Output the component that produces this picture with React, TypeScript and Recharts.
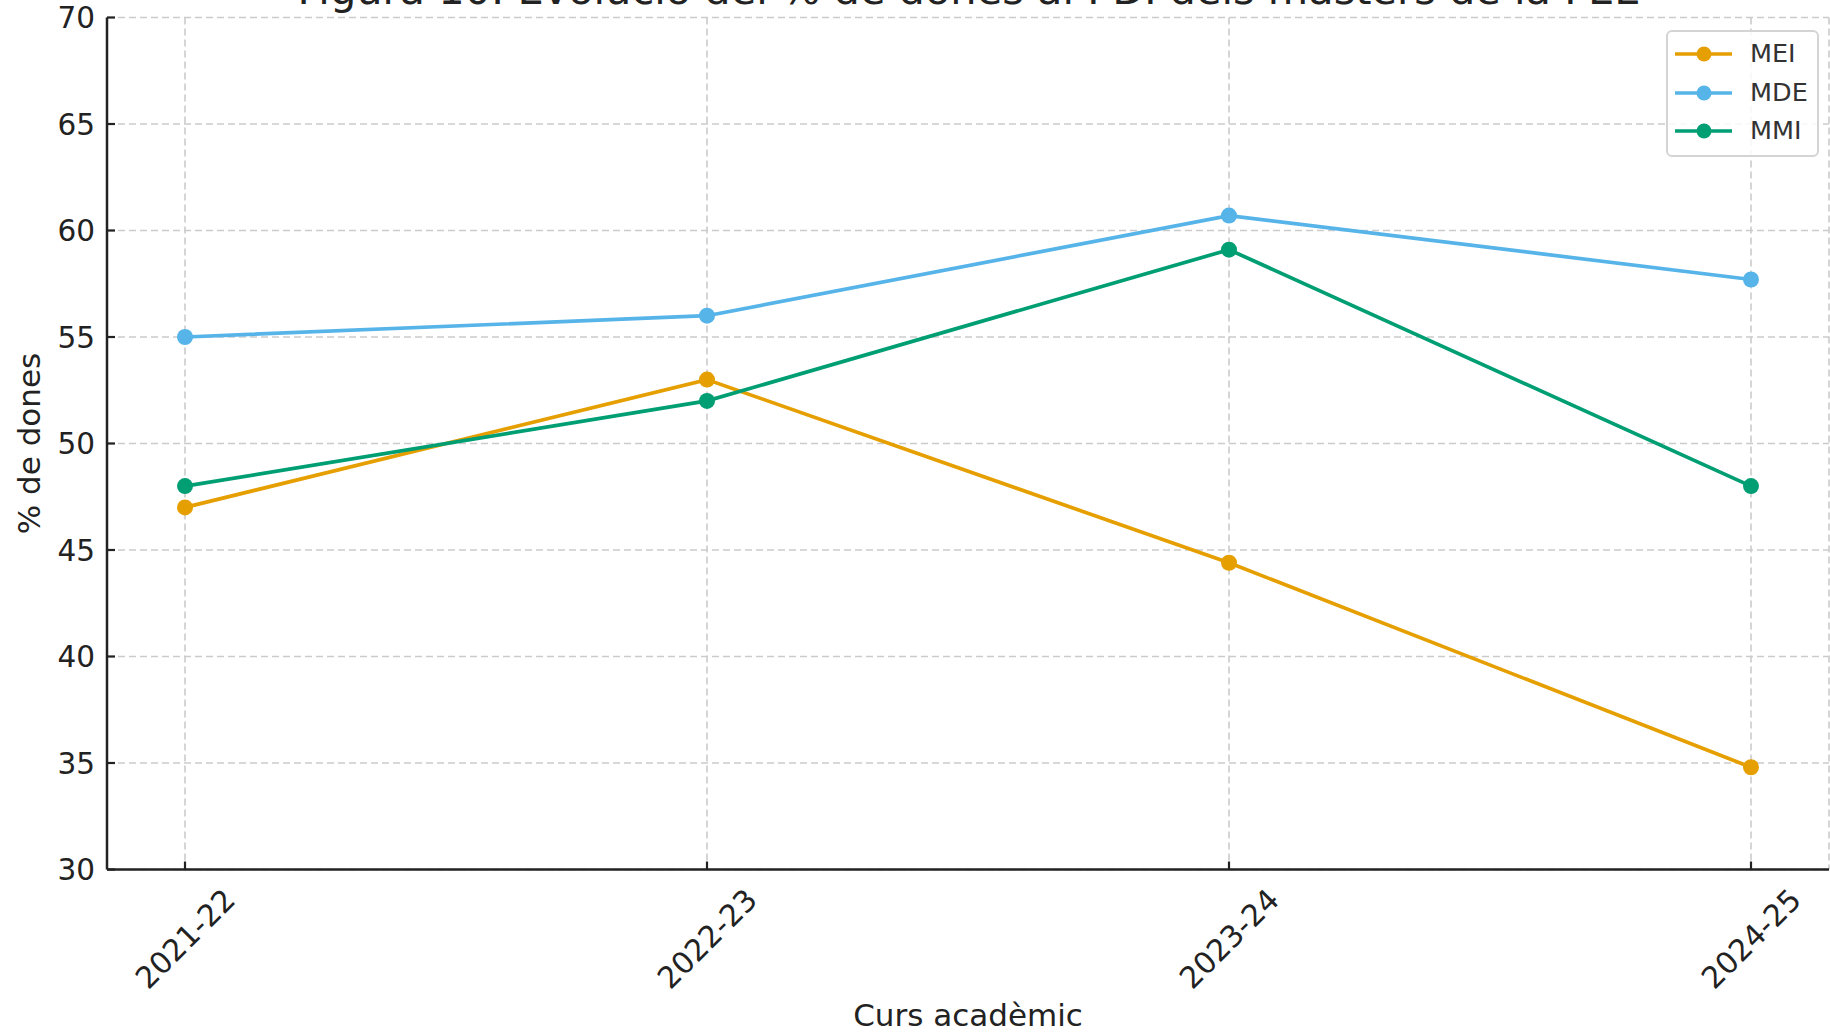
import { LineChart, Line, XAxis, YAxis, CartesianGrid, Legend, Label } from 'recharts';

const FONT = '"DejaVu Sans", sans-serif';
const INK = '#222';

// Dades llegides del gràfic
const cursos = ['2021-22', '2022-23', '2023-24', '2024-25'];
const mei = [47, 53, 44.4, 34.8];
const mde = [55, 56, 60.7, 57.7];
const mmi = [48, 52, 59.1, 48];
const yTicks = [30, 35, 40, 45, 50, 55, 60, 65, 70];

const series = [
  { key: 'MEI', color: '#E69F00' },
  { key: 'MDE', color: '#56B4E9' },
  { key: 'MMI', color: '#009E73' },
];

const data = cursos.map((c, i) => ({ curs: c, MEI: mei[i], MDE: mde[i], MMI: mmi[i] }));

function XTick(props: any) {
  const { x, y, payload } = props;
  const ty = y + 69;
  return (
    <g>
      <line x1={x} y1={y} x2={x} y2={y - 8} stroke={INK} strokeWidth={2.2} />
      <text x={x} y={ty} dy="0.36em" textAnchor="middle" transform={`rotate(-45 ${x} ${ty})`}
        fontSize={30} fill={INK} fontFamily={FONT}>{payload.value}</text>
    </g>
  );
}

function YTick(props: any) {
  const { x, y, payload } = props;
  return (
    <g>
      <line x1={x} y1={y} x2={x + 8} y2={y} stroke={INK} strokeWidth={2.2} />
      <text x={x - 12} y={y} dy="0.36em" textAnchor="end" fontSize={29.5} fill={INK} fontFamily={FONT}>{payload.value}</text>
    </g>
  );
}

function LegendBox(props: any) {
  const items = [...(props.payload || [])].sort(
    (a: any, b: any) => series.findIndex(s => s.key === a.value) - series.findIndex(s => s.key === b.value));
  return (
    <div style={{ position: 'relative', width: 153, height: 127, boxSizing: 'border-box', border: '2px solid #d4d4d4',
      borderRadius: 6, background: 'rgba(255,255,255,0.85)', fontFamily: FONT }}>
      {items.map((it: any, i: number) => (
        <div key={it.value} style={{ position: 'absolute', left: 0, top: 3 + i * 38.5, height: 38, width: '100%' }}>
          <svg width={70} height={38} style={{ position: 'absolute', left: 5, top: 0 }}>
            <line x1={2} y1={19} x2={59} y2={19} stroke={it.color} strokeWidth={3.5} />
            <circle cx={31} cy={19} r={7.5} fill={it.color} />
          </svg>
          <span style={{ position: 'absolute', left: 82, top: 2, fontSize: 25.5, lineHeight: '32px', color: '#333' }}>{it.value}</span>
        </div>
      ))}
    </div>
  );
}

export default function App() {
  return (
    <div style={{ position: 'absolute', left: 0, top: 0, width: 1830, height: 1035, background: '#fff', overflow: 'hidden' }}>
      <LineChart width={1830} height={1035} data={data} margin={{ top: 17.5, right: 1, left: 0, bottom: 0 }}>
        <CartesianGrid stroke="#cbcbcb" strokeWidth={1.6} strokeDasharray="7 4" />
        <XAxis dataKey="curs" height={165.5} padding={{ left: 78, right: 78 }} tickSize={0} tickMargin={0}
          tickLine={false} axisLine={{ stroke: INK, strokeWidth: 2.5 }} tick={<XTick />} interval={0}>
          <Label content={(p: any) => {
            const vb = p.viewBox;
            return <text x={vb.x + vb.width / 2} y={1026} textAnchor="middle" fontSize={31} fill={INK} fontFamily={FONT}>Curs acadèmic</text>;
          }} />
        </XAxis>
        <YAxis width={107} domain={[30, 70]} ticks={yTicks} type="number" tickSize={0} tickMargin={0}
          tickLine={false} axisLine={{ stroke: INK, strokeWidth: 2.5 }} tick={<YTick />} interval={0}>
          <Label content={(p: any) => {
            const vb = p.viewBox;
            const cy = vb.y + vb.height / 2;
            return <text x={40} y={cy} textAnchor="middle" transform={`rotate(-90 40 ${cy})`} fontSize={31} fill={INK} fontFamily={FONT}>% de dones</text>;
          }} />
        </YAxis>
        <Legend layout="vertical" align="center" verticalAlign="middle"
          wrapperStyle={{ left: 1666, top: 30, width: 153, height: 127 }} content={<LegendBox />} />
        {series.map(s => (
          <Line key={s.key} dataKey={s.key} name={s.key} stroke={s.color} strokeWidth={3.7} type="linear"
            dot={{ r: 8, fill: s.color, stroke: s.color, strokeWidth: 0 }} activeDot={false} isAnimationActive={false} />
        ))}
      </LineChart>
      <svg width={1830} height={40} style={{ position: 'absolute', left: 0, top: 0, pointerEvents: 'none' }}>
        <text x={969} y={4} textAnchor="middle" fontSize={41.5} fill={INK} fontFamily={FONT}>
          Figura 10. Evolució del % de dones al PDI dels màsters de la FEE
        </text>
      </svg>
    </div>
  );
}
